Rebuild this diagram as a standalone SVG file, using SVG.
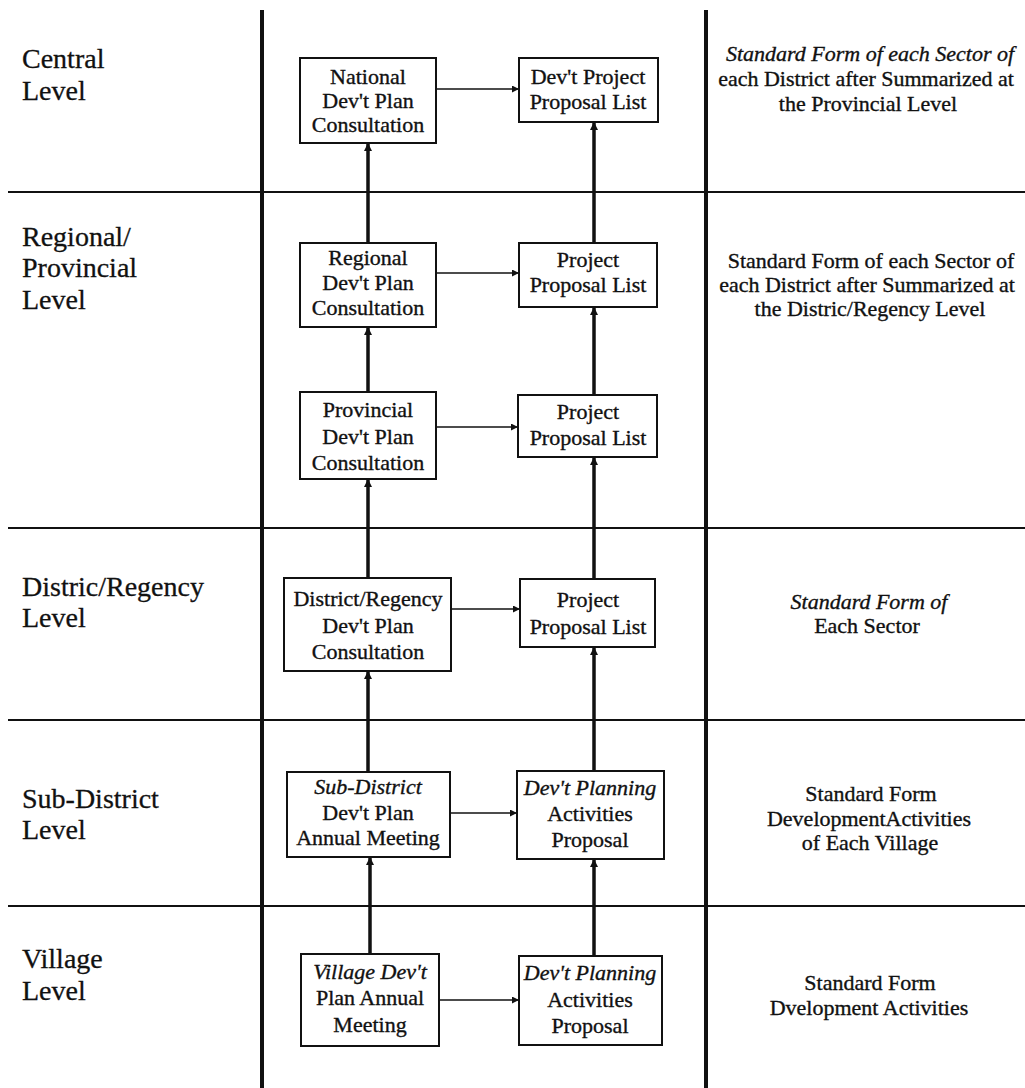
<svg xmlns="http://www.w3.org/2000/svg" width="1025" height="1088" viewBox="0 0 1025 1088">
<defs>
<style>
.lbl{font-family:"Liberation Serif","Times New Roman",serif;font-size:28px;fill:#111;stroke:#111;stroke-width:0.3}
.bt{font-family:"Liberation Serif","Times New Roman",serif;font-size:22px;fill:#111;stroke:#111;stroke-width:0.35;text-anchor:middle}
.rt{font-family:"Liberation Serif","Times New Roman",serif;font-size:22px;fill:#111;stroke:#111;stroke-width:0.35;text-anchor:middle}
.it{font-style:italic}
.box{fill:#fff;stroke:#111;stroke-width:2}
.div{stroke:#111;stroke-width:2;fill:none}
.vdiv{stroke:#111;stroke-width:4;fill:none}
.vc{stroke:#111;stroke-width:3.5;fill:none;marker-end:url(#ah)}
.hc{stroke:#111;stroke-width:1.5;fill:none;marker-end:url(#ahs)}
</style>
<marker id="ah" viewBox="0 0 10 10" refX="10" refY="5" markerWidth="9" markerHeight="8" markerUnits="userSpaceOnUse" orient="auto"><path d="M0,0 L10,5 L0,10 z" fill="#111"/></marker>
<marker id="ahs" viewBox="0 0 10 10" refX="10" refY="5" markerWidth="8" markerHeight="7" markerUnits="userSpaceOnUse" orient="auto"><path d="M0,0 L10,5 L0,10 z" fill="#111"/></marker>
</defs>
<rect width="1025" height="1088" fill="#fff"/>

<g id="grid">
<line class="vdiv" x1="262" y1="10" x2="262" y2="1088"/>
<line class="vdiv" x1="706" y1="10" x2="706" y2="1088"/>
<line class="div" x1="8" y1="192" x2="1025" y2="192"/>
<line class="div" x1="8" y1="528" x2="1025" y2="528"/>
<line class="div" x1="8" y1="720" x2="1025" y2="720"/>
<line class="div" x1="8" y1="906" x2="1025" y2="906"/>
</g>

<g id="level-labels">
<text class="lbl" x="22" y="68">Central</text>
<text class="lbl" x="22" y="100">Level</text>
<text class="lbl" x="22" y="246">Regional/</text>
<text class="lbl" x="22" y="277">Provincial</text>
<text class="lbl" x="22" y="309">Level</text>
<text class="lbl" x="22" y="596">Distric/Regency</text>
<text class="lbl" x="22" y="627">Level</text>
<text class="lbl" x="22" y="808">Sub-District</text>
<text class="lbl" x="22" y="839">Level</text>
<text class="lbl" x="22" y="968">Village</text>
<text class="lbl" x="22" y="1000">Level</text>
</g>

<g id="connectors">
<line class="vc" x1="368" y1="243" x2="368" y2="143"/>
<line class="vc" x1="368" y1="392" x2="368" y2="327"/>
<line class="vc" x1="368" y1="578" x2="368" y2="479"/>
<line class="vc" x1="368" y1="772" x2="368" y2="671"/>
<line class="vc" x1="370" y1="954" x2="370" y2="857"/>
<line class="vc" x1="594" y1="243" x2="594" y2="122"/>
<line class="vc" x1="594" y1="395" x2="594" y2="307"/>
<line class="vc" x1="594" y1="579" x2="594" y2="457"/>
<line class="vc" x1="594" y1="771" x2="594" y2="647"/>
<line class="vc" x1="594" y1="956" x2="594" y2="859"/>
<line class="hc" x1="436" y1="89" x2="519" y2="89"/>
<line class="hc" x1="436" y1="273" x2="519" y2="273"/>
<line class="hc" x1="436" y1="427" x2="518" y2="427"/>
<line class="hc" x1="451" y1="609" x2="520" y2="609"/>
<line class="hc" x1="450" y1="813" x2="517" y2="813"/>
<line class="hc" x1="439" y1="1000" x2="519" y2="1000"/>
</g>

<g id="national">
<rect class="box" x="300" y="58" width="136" height="85"/>
<text class="bt" x="368" y="84">National</text>
<text class="bt" x="368" y="108">Dev't Plan</text>
<text class="bt" x="368" y="132">Consultation</text>
</g>
<g id="devproject">
<rect class="box" x="519" y="58" width="139" height="64"/>
<text class="bt" x="588" y="84">Dev't Project</text>
<text class="bt" x="588" y="109">Proposal List</text>
</g>
<g id="regional">
<rect class="box" x="300" y="243" width="136" height="84"/>
<text class="bt" x="368" y="265">Regional</text>
<text class="bt" x="368" y="290">Dev't Plan</text>
<text class="bt" x="368" y="315">Consultation</text>
</g>
<g id="ppl1">
<rect class="box" x="519" y="243" width="138" height="64"/>
<text class="bt" x="588" y="267">Project</text>
<text class="bt" x="588" y="292">Proposal List</text>
</g>
<g id="provincial">
<rect class="box" x="300" y="392" width="136" height="87"/>
<text class="bt" x="368" y="417">Provincial</text>
<text class="bt" x="368" y="444">Dev't Plan</text>
<text class="bt" x="368" y="470">Consultation</text>
</g>
<g id="ppl2">
<rect class="box" x="518" y="395" width="139" height="62"/>
<text class="bt" x="588" y="419">Project</text>
<text class="bt" x="588" y="445">Proposal List</text>
</g>
<g id="district">
<rect class="box" x="284" y="578" width="167" height="93"/>
<text class="bt" x="368" y="606">District/Regency</text>
<text class="bt" x="368" y="633">Dev't Plan</text>
<text class="bt" x="368" y="659">Consultation</text>
</g>
<g id="ppl3">
<rect class="box" x="520" y="579" width="135" height="68"/>
<text class="bt" x="588" y="607">Project</text>
<text class="bt" x="588" y="634">Proposal List</text>
</g>
<g id="subdistrict">
<rect class="box" x="287" y="772" width="163" height="85"/>
<text class="bt it" x="368" y="794">Sub-District</text>
<text class="bt" x="368" y="820">Dev't Plan</text>
<text class="bt" x="368" y="845">Annual Meeting</text>
</g>
<g id="activities1">
<rect class="box" x="517" y="771" width="147" height="88"/>
<text class="bt it" x="590" y="795">Dev't Planning</text>
<text class="bt" x="590" y="821">Activities</text>
<text class="bt" x="590" y="847">Proposal</text>
</g>
<g id="village">
<rect class="box" x="301" y="954" width="138" height="92"/>
<text class="bt it" x="370" y="979">Village Dev't</text>
<text class="bt" x="370" y="1005">Plan Annual</text>
<text class="bt" x="370" y="1032">Meeting</text>
</g>
<g id="activities2">
<rect class="box" x="519" y="956" width="143" height="89"/>
<text class="bt it" x="590" y="980">Dev't Planning</text>
<text class="bt" x="590" y="1007">Activities</text>
<text class="bt" x="590" y="1033">Proposal</text>
</g>

<g id="forms">
<text class="rt it" x="870" y="61">Standard Form of each Sector of</text>
<text class="rt" x="866" y="86">each District after Summarized at</text>
<text class="rt" x="868" y="111">the Provincial Level</text>
<text class="rt" x="871" y="268">Standard Form of each Sector of</text>
<text class="rt" x="867" y="292">each District after Summarized at</text>
<text class="rt" x="870" y="316">the Distric/Regency Level</text>
<text class="rt it" x="869" y="609">Standard Form of</text>
<text class="rt" x="867" y="633">Each Sector</text>
<text class="rt" x="871" y="801">Standard Form</text>
<text class="rt" x="869" y="826">DevelopmentActivities</text>
<text class="rt" x="870" y="850">of Each Village</text>
<text class="rt" x="870" y="990">Standard Form</text>
<text class="rt" x="869" y="1015">Dvelopment Activities</text>
</g>
</svg>
